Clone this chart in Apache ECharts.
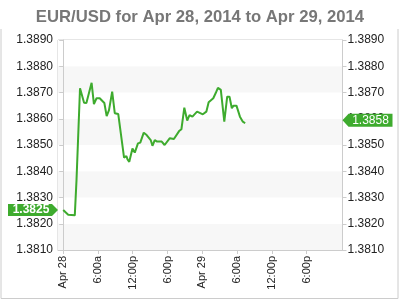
<!DOCTYPE html>
<html>
<head>
<meta charset="utf-8">
<script src="https://cdn.jsdelivr.net/npm/echarts@6/dist/echarts.min.js"></script>
<style>html,body{margin:0;padding:0;background:#fff}#c{width:400px;height:300px}</style>
</head>
<body>
<div id="c"></div>
<script>
// Hours since Apr 28 00:00
var hours = [0, 0.86, 2.0, 2.3, 2.9, 3.6, 4.0, 4.9, 5.3, 5.75, 6.3, 7.1, 7.5, 7.9, 8.45, 8.9, 9.5, 10.5, 10.9, 11.1, 11.4, 11.95, 12.35, 12.9, 13.3, 13.9, 14.4, 15.1, 15.4, 15.8, 16.2, 17.0, 17.5, 18.4, 19.1, 19.4, 20.0, 20.4, 20.9, 21.4, 21.8, 22.3, 23.1, 23.4, 24.1, 24.7, 25.1, 25.9, 26.3, 26.7, 27.2, 27.8, 28.3, 28.7, 29.1, 29.4, 29.9, 30.5, 31.0, 31.4];
var rates = [1.38252, 1.38234, 1.38232, 1.38369, 1.38716, 1.38661, 1.38660, 1.38737, 1.38656, 1.38678, 1.38678, 1.38660, 1.38610, 1.38633, 1.38703, 1.38621, 1.38618, 1.38452, 1.38458, 1.38445, 1.38436, 1.38487, 1.38471, 1.38506, 1.38509, 1.38547, 1.38538, 1.38519, 1.38497, 1.38519, 1.38513, 1.38513, 1.38500, 1.38526, 1.38523, 1.38519, 1.38553, 1.38560, 1.38642, 1.38593, 1.38614, 1.38608, 1.38627, 1.38630, 1.38617, 1.38627, 1.38663, 1.38678, 1.38697, 1.38718, 1.38710, 1.38589, 1.38684, 1.38684, 1.38640, 1.38650, 1.38650, 1.38608, 1.38589, 1.38583];
var tickHours = [0, 6, 12, 18, 24, 30, 36, 42];
var tickLabels = ['Apr 28', '6:00a', '12:00p', '6:00p', 'Apr 29', '6:00a', '12:00p', '6:00p'];
var xMin = -0.9, xMax = 48.2;
var yMin = 1.381, yMax = 1.389, yStep = 0.001;

var FONT = 'Liberation Sans';
var GREEN = '#3eab2e';
var data = hours.map(function (h, i) { return [h, rates[i]]; });
var first = rates[0], last = rates[rates.length - 1];

var chart = echarts.init(document.getElementById('c'), null, {renderer: 'canvas'});
function yAxisCfg(pos, showArea) {
  return {
    type: 'value', position: pos, min: yMin, max: yMax, interval: yStep,
    axisLine: {show: true, lineStyle: {color: '#ccc'}},
    axisTick: {show: true, length: 4, lineStyle: {color: '#ccc'}},
    axisLabel: {margin: 5, color: '#222', fontFamily: FONT, fontSize: 12,
      formatter: function (v) { return v.toFixed(4); }},
    splitLine: {show: false},
    splitArea: {show: showArea, areaStyle: {color: ['#f7f7f7', '#ffffff']}}
  };
}
chart.setOption({
  animation: false,
  backgroundColor: '#fff',
  title: {
    text: 'EUR/USD for Apr 28, 2014 to Apr 29, 2014',
    left: 'center', top: 4,
    textStyle: {color: '#777', fontFamily: FONT, fontSize: 16.7, fontWeight: 'bold'}
  },
  grid: {left: 58, right: 57.5, top: 40, bottom: 50, show: true, borderColor: '#ccc', borderWidth: 1, containLabel: false},
  xAxis: {
    type: 'value', min: xMin, max: xMax,
    axisLine: {show: true, lineStyle: {color: '#ccc'}},
    axisTick: {show: true, length: 4, lineStyle: {color: '#ccc'}, customValues: tickHours},
    axisLabel: {rotate: 90, margin: 6, color: '#222', fontFamily: FONT, fontSize: 11,
      customValues: tickHours,
      formatter: function (v) { var i = tickHours.indexOf(v); return i >= 0 ? tickLabels[i] : ''; }},
    splitLine: {show: false}
  },
  yAxis: [yAxisCfg('left', true), yAxisCfg('right', false)],
  series: [{
    type: 'line', data: data, showSymbol: false, symbol: 'none',
    lineStyle: {color: GREEN, width: 2}, itemStyle: {color: GREEN},
    clip: false, z: 5,
    markPoint: {
      silent: true, z: 10,
      data: [
        {coord: [xMin, first], symbol: 'path://M0,0 L44,0 L50,6 L44,12 L0,12 Z', symbolSize: [50, 12], symbolOffset: [-25, 0],
          itemStyle: {color: GREEN},
          label: {show: true, position: 'inside', offset: [-2, 0], color: '#fff', fontFamily: FONT, fontSize: 12, fontWeight: 'bold', formatter: first.toFixed(4)}},
        {coord: [xMax, last], symbol: 'path://M6,0 L50,0 L50,13 L6,13 L0,6.5 Z', symbolSize: [50, 13], symbolOffset: [25, -3],
          itemStyle: {color: GREEN},
          label: {show: true, position: 'inside', offset: [3, 0], color: '#fff', fontFamily: FONT, fontSize: 12, formatter: last.toFixed(4)}}
      ]
    }
  }],
  graphic: [
    {type: 'polyline', shape: {points: [[1, 29], [1, 298.5], [398, 298.5], [398, 29]]}, style: {stroke: '#ccc', fill: null, lineWidth: 1}, silent: true},
    {type: 'circle', shape: {cx: 272.7, cy: 233, r: 5}, style: {fill: '#dcdcdc'}, silent: true},
    {type: 'text', left: 280, top: 226, style: {text: 'OANDA', fill: '#dcdcdc', font: '15px "Liberation Sans"'}, silent: true}
  ]
});
</script>
</body>
</html>
